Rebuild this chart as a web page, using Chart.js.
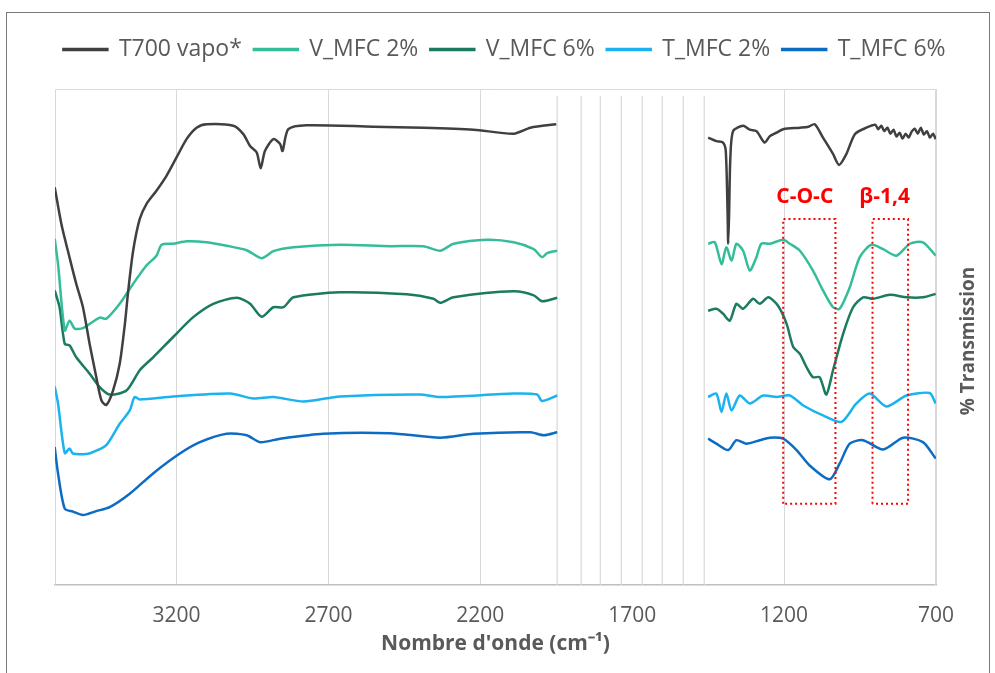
<!DOCTYPE html>
<html>
<head>
<meta charset="utf-8">
<script src="https://cdn.jsdelivr.net/npm/chart.js@4/dist/chart.umd.min.js"></script>
<style>
    body {margin: 0; background: #fff;}
    #frame {position: absolute; left: 6px; top: 12px; width: 982px; height: 700px; border: 1.5px solid #7a7a7a;}
    #wrap {position: absolute; left: 0; top: 0; width: 995px; height: 673px;}
</style>
</head>
<body>
<div id="frame"></div>
<div id="wrap"><canvas id="ftirChart"></canvas></div>
<script>
// wavenumbers (cm-1) and transmission (arbitrary units, offset spectra); null = axis break
const wnT700 = [3601, 3579, 3552, 3530, 3508, 3486, 3464, 3447, 3431, 3409, 3387, 3370, 3359, 3343, 3321, 3299, 3266, 3233, 3200, 3167, 3134, 3101, 3013, 2980, 2958, 2936, 2923, 2909, 2881, 2859, 2851, 2832, 2772, 2552, 2387, 2222, 2090, 2035, 1950,
    1700,
    1450, 1423, 1401, 1392, 1386, 1384, 1381, 1377, 1368, 1335, 1313, 1291, 1264, 1247, 1225, 1203, 1148, 1120, 1099, 1072, 1039, 1019, 995, 967, 929, 900, 890, 880, 870, 860, 850, 840, 830, 820, 810, 800, 790, 780, 770, 760, 750, 740, 730, 720, 710, 701];
const trT700 = [80.2, 72.8, 66.0, 60.7, 56.0, 48.6, 41.9, 37.2, 36.3, 39.2, 44.6, 52.6, 59.3, 67.3, 73.8, 76.8, 79.5, 82.5, 86.2, 89.9, 92.2, 92.9, 92.6, 90.9, 88.5, 87.2, 84.0, 87.5, 89.9, 88.9, 87.5, 91.9, 92.7, 92.4, 92.2, 91.8, 91.0, 92.2, 92.9,
    null,
    90.2, 89.5, 89.2, 87.5, 75.0, 68.8, 75.0, 86.0, 91.5, 92.6, 91.8, 91.5, 89.2, 90.5, 91.2, 91.9, 92.2, 92.4, 92.9, 90.2, 86.9, 84.7, 86.9, 90.9, 92.2, 92.8, 91.9, 92.6, 91.5, 92.2, 91.0, 91.8, 90.4, 91.2, 90.0, 91.0, 90.2, 91.4, 92.0, 91.0, 92.2, 90.8, 91.5, 90.2, 91.0, 89.9];

const wnV2 = [3601, 3590, 3568, 3552, 3535, 3508, 3453, 3431, 3387, 3343, 3299, 3266, 3249, 3211, 3167, 3101, 3035, 2969, 2920, 2881, 2815, 2662, 2497, 2387, 2332, 2288, 2178, 2090, 2024, 1997, 1980, 1947,
    1700,
    1450, 1428, 1406, 1390, 1373, 1357, 1335, 1313, 1291, 1275, 1247, 1203, 1181, 1148, 1105, 1072, 1039, 1017, 984, 951, 913, 874, 830, 786, 743, 701];
const trV2 = [69.8, 64.7, 51.3, 53.3, 51.7, 51.8, 53.9, 53.7, 56.7, 60.7, 64.4, 66.4, 68.6, 68.8, 69.3, 69.1, 68.4, 67.5, 65.9, 67.3, 68.1, 68.6, 68.3, 68.3, 67.4, 68.8, 69.6, 69.1, 67.7, 66.1, 66.9, 67.4,
    null,
    68.8, 69.1, 64.7, 68.1, 65.4, 68.8, 67.4, 63.4, 66.1, 68.8, 68.8, 69.6, 68.8, 67.4, 63.4, 59.4, 56.0, 55.7, 60.0, 66.1, 68.6, 67.7, 66.4, 68.8, 69.1, 66.4];

const wnV6 = [3601, 3585, 3568, 3552, 3530, 3486, 3453, 3420, 3365, 3321, 3277, 3211, 3145, 3079, 3002, 2958, 2920, 2881, 2848, 2815, 2662, 2442, 2354, 2332, 2288, 2090, 2024, 1997, 1947,
    1700,
    1450, 1423, 1401, 1379, 1357, 1335, 1302, 1280, 1252, 1220, 1192, 1170, 1148, 1126, 1105, 1083, 1061, 1039, 1006, 973, 940, 907, 852, 797, 743, 701];
const trV6 = [59.4, 56.0, 48.6, 48.3, 45.9, 42.6, 39.9, 38.4, 39.2, 43.3, 45.9, 50.0, 54.0, 56.7, 57.9, 56.7, 54.1, 56.0, 56.0, 58.0, 59.0, 58.6, 57.7, 56.9, 58.0, 59.2, 58.4, 57.2, 57.9,
    null,
    55.3, 55.7, 54.7, 53.3, 56.7, 55.7, 57.7, 56.7, 58.0, 56.3, 52.7, 48.0, 46.6, 43.9, 41.9, 41.9, 38.4, 43.3, 50.6, 56.0, 58.0, 57.7, 58.5, 58.0, 58.0, 58.7];

const wnT2 = [3601, 3590, 3568, 3552, 3541, 3497, 3475, 3431, 3387, 3354, 3338, 3321, 3211, 3024, 2947, 2881, 2782, 2662, 2398, 2332, 2090, 2013, 1997, 1947,
    1700,
    1450, 1423, 1406, 1390, 1373, 1346, 1313, 1269, 1225, 1181, 1137, 1072, 1011, 962, 918, 863, 797, 721, 701];
const trT2 = [40.0, 36.6, 26.6, 27.5, 26.5, 26.4, 26.8, 28.2, 32.5, 35.2, 37.9, 37.4, 38.0, 38.6, 37.6, 37.9, 37.0, 38.0, 38.4, 37.9, 38.6, 38.4, 37.1, 38.2,
    null,
    37.9, 38.6, 34.9, 38.6, 35.2, 38.2, 36.6, 38.2, 37.9, 38.2, 36.2, 34.2, 32.9, 36.6, 38.6, 36.0, 38.2, 38.7, 36.6];

const wnT6 = [3601, 3590, 3568, 3541, 3508, 3464, 3420, 3354, 3277, 3189, 3123, 3035, 2969, 2925, 2859, 2717, 2497, 2332, 2222, 2035, 1991, 1947,
    1700,
    1450, 1423, 1384, 1357, 1324, 1280, 1247, 1203, 1159, 1116, 1050, 1017, 984, 940, 874, 808, 743, 701];
const trT6 = [27.8, 22.5, 15.4, 14.8, 14.1, 14.9, 15.7, 18.4, 22.5, 26.5, 28.8, 30.5, 30.2, 28.8, 29.5, 30.5, 30.6, 29.7, 30.5, 30.8, 30.2, 30.8,
    null,
    29.5, 28.5, 27.2, 29.2, 28.5, 29.2, 29.7, 29.5, 27.2, 24.1, 21.3, 24.5, 28.5, 29.2, 27.3, 29.7, 28.8, 25.5];

const seriesNames = ["T700 vapo*", "V_MFC 2%", "V_MFC 6%", "T_MFC 2%", "T_MFC 6%"];
const seriesColors = ["#404040", "#35bd9a", "#1b7a5f", "#1ab3ef", "#0c6cc4"];

const xTicks = [3200, 2700, 2200, 1700, 1200, 700];
// thin vertical lines drawn in the axis break
const breakLines = [1947, 1868, 1805, 1736, 1667, 1601, 1532, 1463];
const breakTop = 98.6;

// dotted band boxes: [high wn, low wn], and their labels
const bandNames = ["C-O-C", "β-1,4"];
const bandRanges = [[1203, 1031], [909, 792]];
const bandLabelWn = [1132, 869];
const bandBottom = 16.4;
const bandTop = 73.8;
const bandLabelY = 78.3;

const FONT = "'Open Sans', sans-serif";
const TEXT = "#595959";

const pts = (xs, ys) => xs.map((x, i) => ({x, y: ys[i]}));

const spectra = [[wnT700, trT700], [wnV2, trV2], [wnV6, trV6], [wnT2, trT2], [wnT6, trT6]];
const datasets = spectra.map(([xs, ys], i) => ({
    label: seriesNames[i],
    data: pts(xs, ys),
    borderColor: seriesColors[i],
    backgroundColor: seriesColors[i],
    borderWidth: 2.5,
    pointRadius: 0,
    tension: 0.25,
    spanGaps: false,
    order: i
}));

breakLines.forEach(v => {
    datasets.push({
        label: "break",
        data: [{x: v, y: 0}, {x: v, y: breakTop}],
        borderColor: "#d9d9d9",
        borderWidth: 1.2,
        pointRadius: 0,
        order: 20
    });
});

bandRanges.forEach(([a, b]) => {
    datasets.push({
        label: "band",
        data: [{x: a, y: bandBottom}, {x: a, y: bandTop}, {x: b, y: bandTop}, {x: b, y: bandBottom}, {x: a, y: bandBottom}],
        borderColor: "#ff0000",
        borderWidth: 2,
        borderDash: [2, 3],
        pointRadius: 0,
        tension: 0,
        order: -1
    });
});

// legend gets the full canvas width (one row) and extra room below it
const legendSpace = {
    id: "legendSpace",
    beforeInit(chart) {
        const fit = chart.legend.fit;
        chart.legend.fit = function () {
            this.maxWidth = chart.width;
            fit.call(this);
            this.height = 63;
        };
    },
    afterLayout(chart) {
        chart.legend.left = 14;
        chart.legend.right = chart.width;
    }
};

const plotFrame = {
    id: "plotFrame",
    beforeDatasetsDraw(chart) {
        const {ctx, chartArea: a} = chart;
        ctx.save();
        ctx.strokeStyle = "#d9d9d9";
        ctx.lineWidth = 1;
        ctx.beginPath();
        ctx.moveTo(a.left + 0.5, a.bottom);
        ctx.lineTo(a.left + 0.5, a.top + 0.5);
        ctx.lineTo(a.right - 0.5, a.top + 0.5);
        ctx.lineTo(a.right - 0.5, a.bottom);
        ctx.stroke();
        ctx.restore();
    },
    afterDraw(chart) {
        const {ctx, chartArea: a, scales: {x, y}} = chart;
        ctx.save();
        ctx.fillStyle = "#ff0000";
        ctx.font = "bold 21px " + FONT;
        ctx.textAlign = "center";
        ctx.textBaseline = "middle";
        bandNames.forEach((n, i) => {
            ctx.fillText(n, x.getPixelForValue(bandLabelWn[i]), y.getPixelForValue(bandLabelY));
        });
        // y axis title, reads bottom to top on the right side
        ctx.fillStyle = TEXT;
        ctx.font = "bold 19px " + FONT;
        ctx.translate(a.right + 33, (a.top + a.bottom) / 2 + 4);
        ctx.rotate(-Math.PI / 2);
        ctx.fillText("% Transmission", 0, 0);
        ctx.restore();
    }
};

new Chart(document.getElementById("ftirChart"), {
    type: "line",
    data: {datasets},
    options: {
        responsive: true,
        maintainAspectRatio: false,
        animation: false,
        parsing: false,
        layout: {padding: {left: 55, right: 59, top: 26, bottom: 12}},
        plugins: {
            legend: {
                position: "top",
                labels: {
                    filter: item => item.datasetIndex < 5,
                    font: {family: FONT, size: 23},
                    color: TEXT,
                    boxWidth: 44,
                    boxHeight: 1,
                    padding: 12
                }
            },
            tooltip: {enabled: false}
        },
        scales: {
            x: {
                type: "linear",
                reverse: true,
                min: 700,
                max: 3600,
                afterBuildTicks: s => {
                    s.ticks = xTicks.map(v => ({value: v}));
                },
                afterFit: s => {
                    s.height = 76;
                },
                grid: {
                    color: c => (c.tick && c.tick.value === 1700) ? "rgba(0,0,0,0)" : "#d9d9d9",
                    drawTicks: false
                },
                border: {color: "#bfbfbf", width: 1.5},
                ticks: {
                    font: {family: FONT, size: 21},
                    color: TEXT,
                    padding: 18,
                    maxRotation: 0,
                    autoSkip: false,
                    callback: v => String(v)
                },
                title: {
                    display: true,
                    text: "Nombre d'onde (cm⁻¹)",
                    font: {family: FONT, size: 21, weight: "bold"},
                    color: TEXT
                }
            },
            y: {
                display: false,
                min: 0,
                max: 100
            }
        }
    },
    plugins: [legendSpace, plotFrame]
});
</script>
</body>
</html>
